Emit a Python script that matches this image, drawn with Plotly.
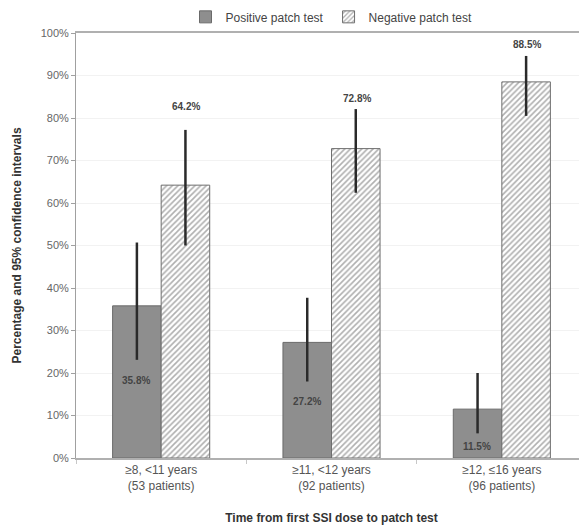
import plotly.graph_objects as go

categories = ["≥8, <11 years<br>(53 patients)", "≥11, <12 years<br>(92 patients)", "≥12, ≤16 years<br>(96 patients)"]
positive = [35.8, 27.2, 11.5]
positive_lo = [23.1, 18.0, 5.8]
positive_hi = [50.7, 37.7, 20.0]
negative = [64.2, 72.8, 88.5]
negative_lo = [50.0, 62.4, 80.5]
negative_hi = [77.2, 82.1, 94.6]
y_ticks = [0, 10, 20, 30, 40, 50, 60, 70, 80, 90, 100]

FONT = "Arial, Liberation Sans, sans-serif"

fig = go.Figure()
fig.add_trace(go.Bar(
    name="Positive patch test", x=categories, y=positive,
    marker=dict(color="#8e8e8e", line=dict(color="#6a6a6a", width=1)),
    error_y=dict(type="data", symmetric=False,
                 array=[h - v for h, v in zip(positive_hi, positive)],
                 arrayminus=[v - l for l, v in zip(positive_lo, positive)],
                 color="#2a2a2a", thickness=2.5, width=0),
))
fig.add_trace(go.Bar(
    name="Negative patch test", x=categories, y=negative,
    marker=dict(color="white", line=dict(color="#6f6f6f", width=1),
                pattern=dict(shape="/", fgcolor="#606060", bgcolor="white", size=4, solidity=0.4)),
    error_y=dict(type="data", symmetric=False,
                 array=[h - v for h, v in zip(negative_hi, negative)],
                 arrayminus=[v - l for l, v in zip(negative_lo, negative)],
                 color="#2a2a2a", thickness=2.5, width=0),
))

# value labels
pos_label_shift = [70, 49, 4]
for c, v, s in zip(categories, positive, pos_label_shift):
    fig.add_annotation(x=c, y=0, yref="y", text=f"<b>{v}%</b>", showarrow=False,
                       xshift=-25, yanchor="bottom", yshift=s,
                       font=dict(size=10, color="#444", family=FONT))
neg_label_shift = [23, 11, 11]
for c, v, h, s in zip(categories, negative, negative_hi, neg_label_shift):
    fig.add_annotation(x=c, y=h, text=f"<b>{v}%</b>", showarrow=False,
                       xshift=25, yanchor="middle", yshift=s,
                       font=dict(size=10, color="#444", family=FONT))

fig.update_layout(
    width=579, height=519,
    margin=dict(l=68, r=0, t=25, b=69, autoexpand=False),
    paper_bgcolor="white", plot_bgcolor="white",
    barmode="group", bargap=0.43, bargroupgap=0,
    font=dict(family=FONT, color="#555", size=11),
    legend=dict(orientation="h", x=0.5, xanchor="center", xref="paper",
                y=1.038, yanchor="middle", yref="paper",
                bgcolor="rgba(0,0,0,0)",
                font=dict(size=12, color="#444", family=FONT), itemwidth=30,
                traceorder="normal"),
    xaxis=dict(showline=True, linecolor="#b0b0b0", linewidth=1.5, mirror=True,
               ticks="outside", tickson="boundaries", ticklen=4, tickcolor="#c8c8c8",
               tickfont=dict(size=12, color="#555555"), automargin=False,
               title=dict(text="<b>Time from first SSI dose to patch test</b>",
                          font=dict(size=12, color="#333"), standoff=22)),
    yaxis=dict(range=[0, 100], tickvals=y_ticks, ticktext=[f"{t}%" for t in y_ticks],
               showline=True, linecolor="#a0a0a0", linewidth=1, ticks="outside",
               ticklen=4, tickcolor="#a0a0a0", showgrid=True, gridcolor="#f2f2f2",
               tickfont=dict(size=11, color="#666666"), zeroline=False, automargin=False,
               title=dict(text="<b>Percentage and 95% confidence intervals</b>",
                          font=dict(size=12, color="#333"), standoff=16)),
)

fig.write_html("out.html")
